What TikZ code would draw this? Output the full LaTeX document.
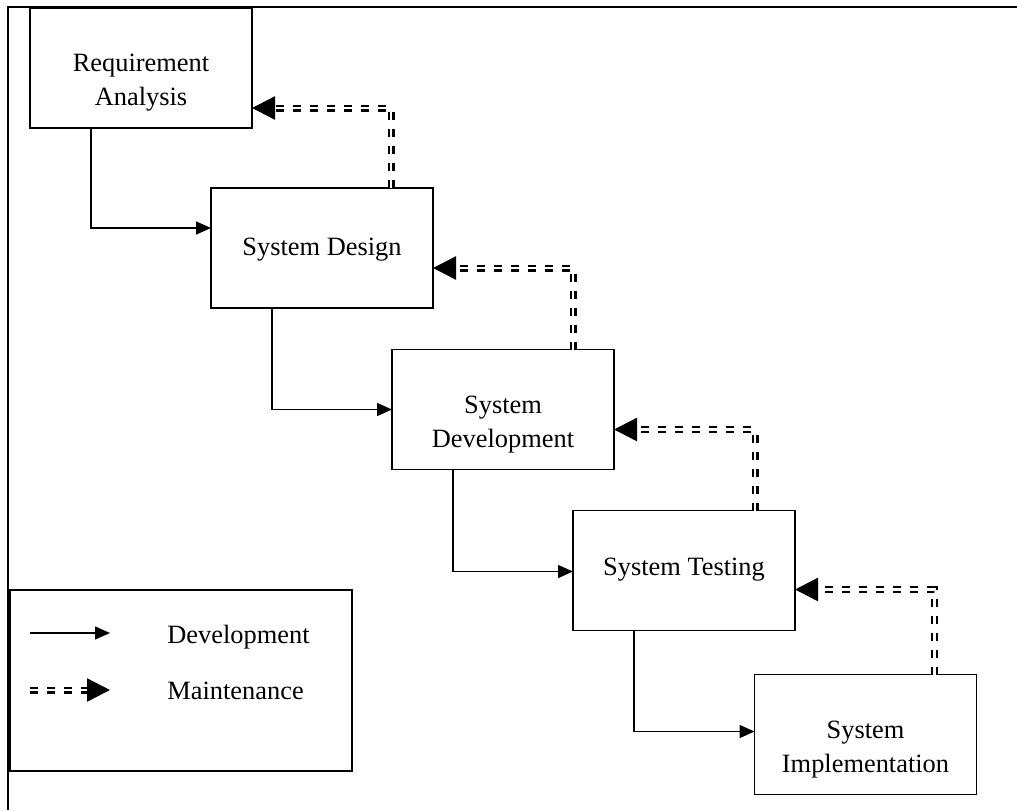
\documentclass[tikz,border=0pt]{standalone}
\usepackage{fontspec}
\setmainfont{Liberation Serif}
\usetikzlibrary{arrows.meta,positioning,calc}

\begin{document}
\begin{tikzpicture}[x=0.5pt,y=-0.5pt,
        every node/.style={font=\fontsize{13.2}{17}\selectfont},
        box/.style={draw,rectangle,line width=0.75pt,outer sep=0pt,minimum width=111pt,minimum height=60pt},
        txt/.style={align=center,inner sep=0pt},
        dev/.style={line width=0.75pt,-{Triangle[length=7.5pt,width=6.5pt]}},
        maint/.style={draw=black,line width=1.2pt,double=white,double distance=1.1pt,
                      dash pattern=on 4pt off 4.5pt,
                      -{Triangle[length=11.5pt,width=11.5pt]}}]
   \useasboundingbox (0,0) rectangle (1017,810);
   \draw[line width=0.9pt] (8,810) |- (1017,7);

   % phases
   \node (RA) [box] at (141,68) {};
   \node (RAt) [txt] at ($(RA.center)+(0,15)$) {Requirement\\Analysis};
   \node (SD) [box] at (322,248) {};
   \node (SDt) [txt] at ($(SD.center)+(0,2)$) {System Design};
   \node (SDv) [box] at (503,409.5) {};
   \node (SDvt) [txt] at ($(SDv.center)+(0,15)$) {System\\Development};
   \node (ST) [box] at (684,570.5) {};
   \node (STt) [txt] at ($(ST.center)+(0,-1)$) {System Testing};
   \node (SI) [box] at (865.5,734.5) {};
   \node (SIt) [txt] at ($(SI.center)+(0,15)$) {System\\Implementation};

   % development
   \draw[dev] ($(RA.south west)+(61,0)$) |- ($(SD.north west)+(0,40)$);
   \draw[dev] ($(SD.south west)+(61,0)$) |- ($(SDv.north west)+(0,60)$);
   \draw[dev] ($(SDv.south west)+(61,0)$) |- ($(ST.north west)+(0,61)$);
   \draw[dev] ($(ST.south west)+(61,0)$) |- ($(SI.north west)+(0,57)$);

   % maintenance
   \draw[maint] ($(SD.north west)+(180,0)$) |- ($(RA.south east)+(0,-20)$);
   \draw[maint] ($(SDv.north west)+(181,0)$) |- ($(SD.south east)+(0,-40)$);
   \draw[maint] ($(ST.north west)+(182,0)$) |- ($(SDv.south east)+(0,-40)$);
   \draw[maint] ($(SI.north west)+(180,0)$) |- ($(ST.south east)+(0,-41)$);

   % legend
   \node (L) [draw,rectangle,line width=0.75pt,outer sep=0pt,minimum width=171pt,minimum height=90.5pt] at (181,680.5) {};
   \coordinate (La) at ($(L.north west)+(20,43)$);
   \coordinate (Lb) at ($(La)+(80,0)$);
   \coordinate (Lc) at ($(La)+(0,57)$);
   \coordinate (Ld) at ($(Lc)+(80,0)$);
   \draw[dev] (La) -- (Lb);
   \draw[maint] (Lc) -- (Ld);
   \node (Ldev) [anchor=west,inner sep=0pt] at ($(La)+(137,4)$) {Development};
   \node (Lmai) [anchor=west,inner sep=0pt] at ($(Lc)+(137,1)$) {Maintenance};
\end{tikzpicture}
\end{document}
